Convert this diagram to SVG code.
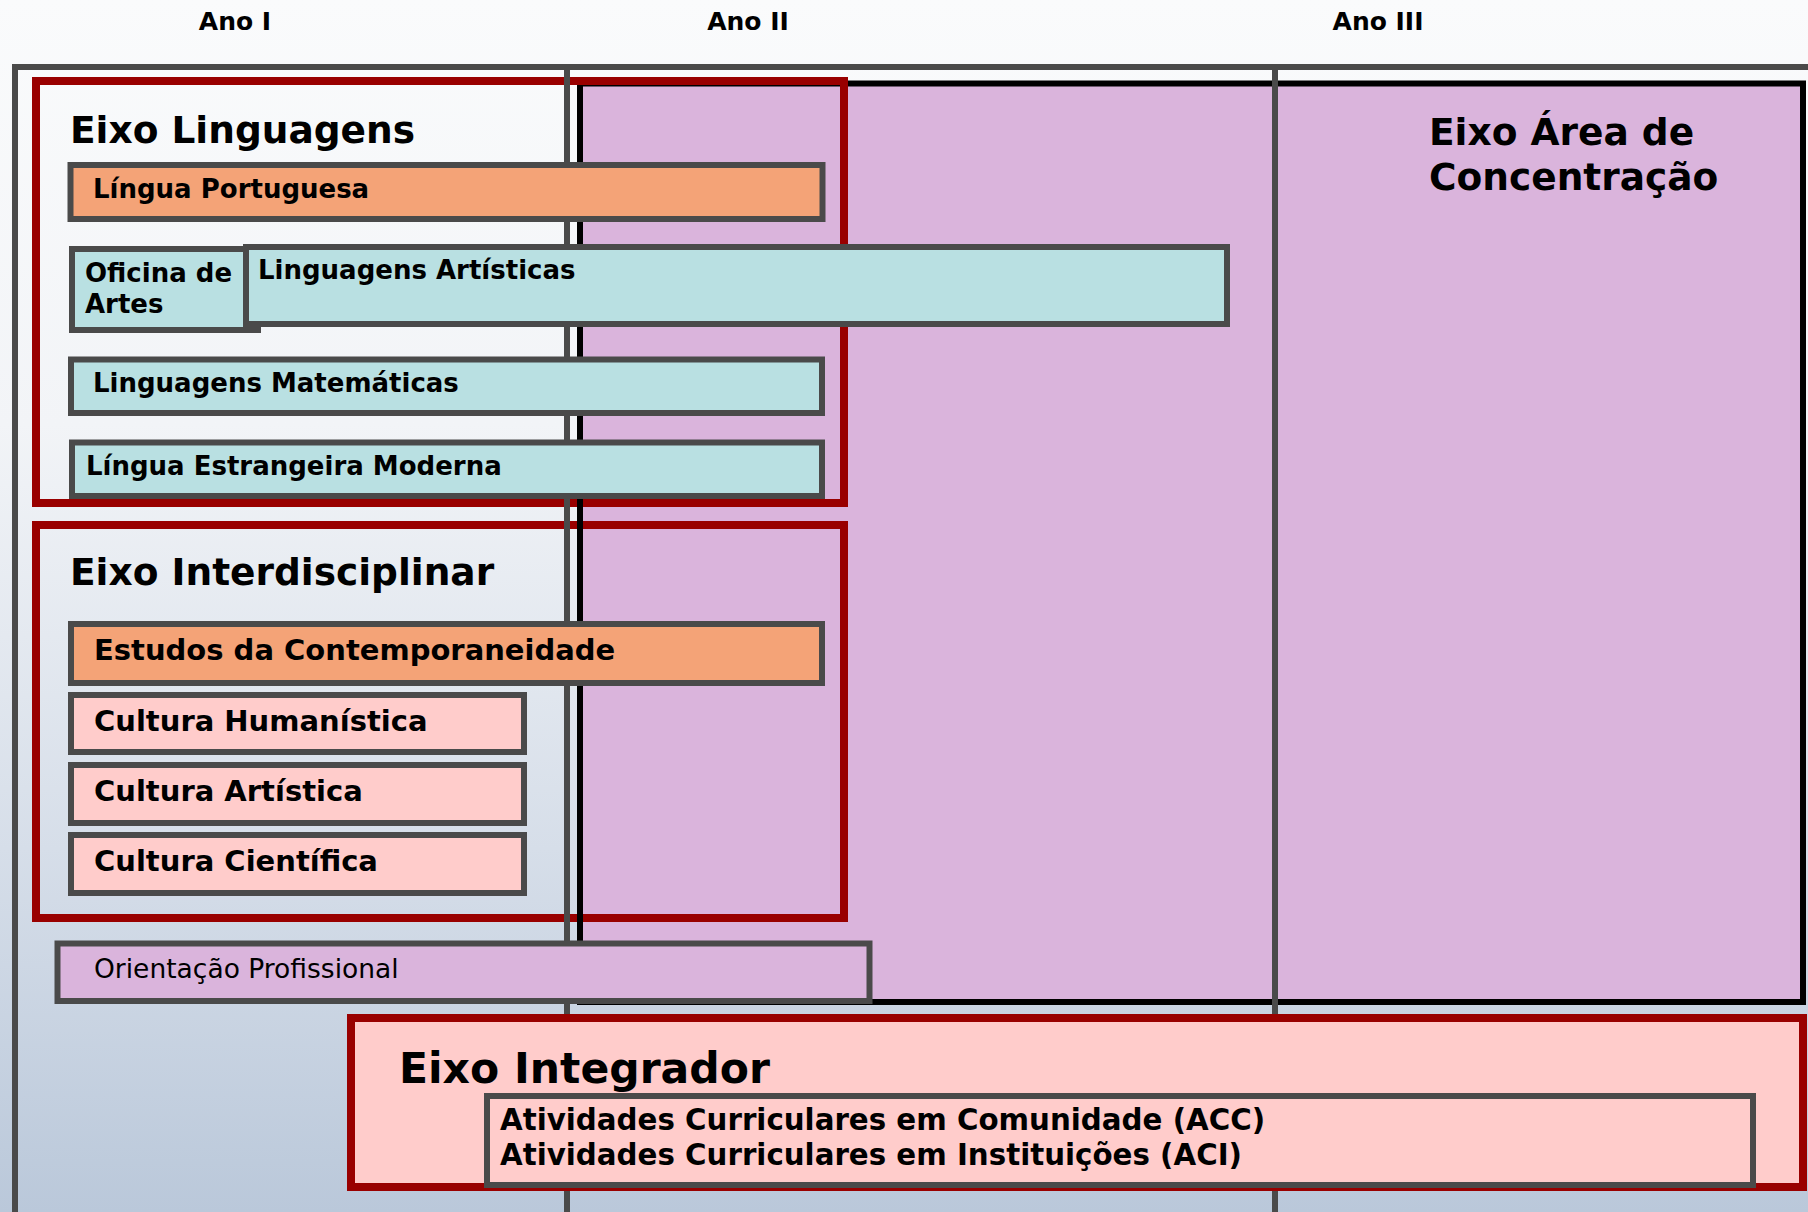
<svg xmlns="http://www.w3.org/2000/svg" width="1808" height="1212" viewBox="0 0 1808 1212">
<defs>
<linearGradient id="bg" x1="0" y1="0" x2="0" y2="1">
<stop offset="0" stop-color="#fafbfc"/>
<stop offset="0.35" stop-color="#f2f4f7"/>
<stop offset="0.7" stop-color="#d6dee9"/>
<stop offset="1" stop-color="#bac8da"/>
</linearGradient>
<style>
.grid{stroke:#4a4a4a;stroke-width:6;fill:none}
.axis{fill:none;stroke:#990000;stroke-width:8}
.box{stroke:#4a4a4a;stroke-width:6}
.orange{fill:#f4a377}
.teal{fill:#b9e0e2}
.pink{fill:#ffcccb}
.purple{fill:#dab4dc}
text{font-family:"DejaVu Sans","Verdana",sans-serif;fill:#000}
.b{font-weight:bold}
.hdr{font-size:25px;font-weight:bold;text-anchor:middle}
.t26{font-size:26px;font-weight:bold}
.t29{font-size:29px;font-weight:bold}
.ttl{font-size:37.5px;font-weight:bold}
</style>
</defs>
<rect x="0" y="0" width="1808" height="1212" fill="url(#bg)"/>

<g id="headers">
<text class="hdr" x="235" y="30">Ano I</text>
<text class="hdr" x="748" y="30">Ano II</text>
<text class="hdr" x="1378" y="30">Ano III</text>
</g>

<g id="eixo-area-concentracao">
<rect x="580" y="83.5" width="1223" height="918.5" class="purple" stroke="#000" stroke-width="6"/>
<text class="ttl" x="1429" y="145">Eixo Área de</text>
<text class="ttl" x="1429" y="190">Concentração</text>
</g>

<g id="eixo-linguagens">
<rect x="36" y="81" width="808" height="422" class="axis"/>
<text class="ttl" x="70" y="143">Eixo Linguagens</text>
</g>

<g id="eixo-interdisciplinar">
<rect x="36" y="525" width="808" height="393" class="axis"/>
<text class="ttl" x="70" y="585">Eixo Interdisciplinar</text>
</g>

<g id="connectors">
<path class="grid" d="M15 1212 V67 H1808 M567 67 V1212 M1275 67 V1212"/>
<path d="M580 86 V1002" stroke="#000" stroke-width="6" fill="none"/>
</g>

<g id="lingua-portuguesa">
<rect x="70.5" y="165" width="752" height="54" class="box orange"/>
<text class="t26" x="93" y="198">Língua Portuguesa</text>
</g>
<g id="oficina-de-artes">
<rect x="72" y="249" width="186" height="81" class="box teal"/>
<text class="t26" x="85" y="282">Oficina de</text>
<text class="t26" x="85" y="313">Artes</text>
</g>
<g id="linguagens-artisticas">
<rect x="246" y="247" width="981" height="77" class="box teal"/>
<text class="t26" x="258" y="279">Linguagens Artísticas</text>
</g>
<g id="linguagens-matematicas">
<rect x="71" y="359.5" width="751" height="53.5" class="box teal"/>
<text class="t26" x="93" y="392">Linguagens Matemáticas</text>
</g>
<g id="lingua-estrangeira">
<rect x="72" y="442.5" width="750" height="53.5" class="box teal"/>
<text class="t26" x="86" y="475">Língua Estrangeira Moderna</text>
</g>

<g id="estudos-contemporaneidade">
<rect x="71" y="624" width="751" height="59" class="box orange"/>
<text class="t29" x="94" y="660">Estudos da Contemporaneidade</text>
</g>
<g id="cultura-humanistica">
<rect x="71" y="695" width="453" height="57" class="box pink"/>
<text class="t29" x="94" y="731">Cultura Humanística</text>
</g>
<g id="cultura-artistica">
<rect x="71" y="765" width="453" height="58" class="box pink"/>
<text class="t29" x="94" y="801">Cultura Artística</text>
</g>
<g id="cultura-cientifica">
<rect x="71" y="835" width="453" height="58" class="box pink"/>
<text class="t29" x="94" y="871">Cultura Científica</text>
</g>

<g id="orientacao-profissional">
<rect x="57.5" y="943.5" width="812" height="57.5" class="box purple"/>
<text x="94" y="978" font-size="26.5">Orientação Profissional</text>
</g>

<g id="eixo-integrador">
<rect x="351" y="1018" width="1452" height="169" class="pink" stroke="#990000" stroke-width="8"/>
<text x="399" y="1083" font-size="42.5" class="b">Eixo Integrador</text>
</g>
<g id="atividades-curriculares">
<rect x="487" y="1096" width="1266" height="89" class="box pink"/>
<text x="500" y="1130" font-size="29.3" class="b">Atividades Curriculares em Comunidade (ACC)</text>
<text x="500" y="1165" font-size="29.3" class="b">Atividades Curriculares em Instituições (ACI)</text>
</g>
</svg>
